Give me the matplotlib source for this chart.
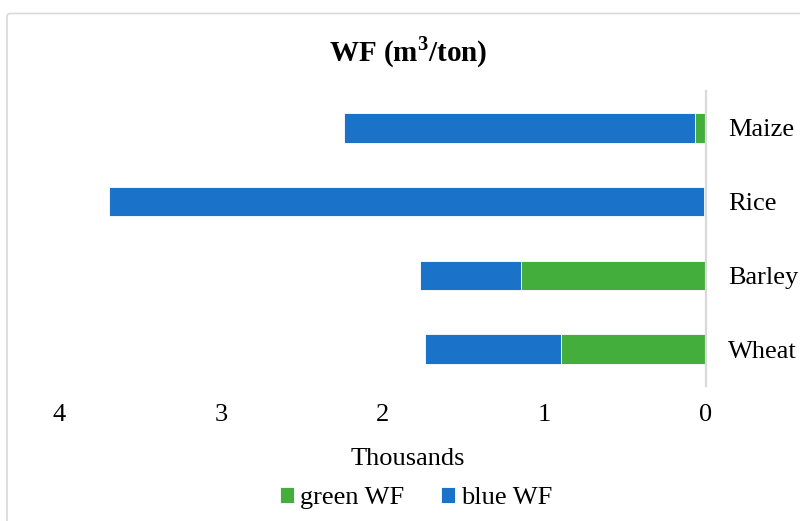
import matplotlib
matplotlib.use('Agg')
import matplotlib.pyplot as plt
from matplotlib.patches import FancyBboxPatch
from matplotlib.ticker import FuncFormatter

plt.rcParams['font.family'] = ['Liberation Serif', 'DejaVu Serif']
plt.rcParams['mathtext.fontset'] = 'custom'
plt.rcParams['mathtext.rm'] = 'Liberation Serif'
plt.rcParams['mathtext.bf'] = 'Liberation Serif:bold'

# data (m3/ton), bottom to top
crops = ['Wheat', 'Barley', 'Rice', 'Maize']
green_wf = [896, 1144, 10, 70]
blue_wf = [841, 624, 3680, 2168]
xticks = [0, 1000, 2000, 3000, 4000]

GREEN = '#43AE3B'
BLUE = '#1A73C9'

fig = plt.figure(figsize=(8, 5.21), dpi=100)
ax = fig.add_axes([59 / 800, 135 / 521, 647 / 800, 295 / 521])

ax.barh(crops, green_wf, height=0.4, color=GREEN, edgecolor='white', lw=0.6, label='green WF')
ax.barh(crops, blue_wf, left=green_wf, height=0.4, color=BLUE, edgecolor='white', lw=0.6, label='blue WF')

ax.set_xlim(4000, 0)
ax.set_ylim(-0.5, 3.5)
ax.set_xticks(xticks)
ax.xaxis.set_major_formatter(FuncFormatter(lambda v, p: f'{v / 1000:g}'))
ax.yaxis.tick_right()
ax.tick_params(axis='y', length=0, pad=16, labelsize=19)
ax.tick_params(axis='x', length=0, pad=13, labelsize=19)
for s in ['top', 'bottom', 'left']:
    ax.spines[s].set_visible(False)
ax.spines['right'].set_color('#d9d9d9')
ax.spines['right'].set_linewidth(1.6)

ax.set_xlabel('Thousands', fontsize=19, labelpad=16, x=(408 - 59) / 647)
fig.text(408 / 800, 1 - 52 / 521, r'WF (m$^{\mathbf{3}}$/ton)', ha='center', va='center',
         fontsize=21, fontweight='bold')

fig.legend(loc='center', bbox_to_anchor=(416 / 800, 1 - 498 / 521), ncol=2,
           frameon=False, fontsize=19, handlelength=0.55, handleheight=0.55,
           handletextpad=0.2, columnspacing=1.4)

border = FancyBboxPatch((7 / 800, -0.1), 1.2, 1.1 - 13.5 / 521,
                        boxstyle='round,pad=0,rounding_size=0.005',
                        transform=fig.transFigure, fill=False,
                        edgecolor='#d9d9d9', lw=1.2)
fig.patches.append(border)

fig.savefig('out.png', dpi=100)
